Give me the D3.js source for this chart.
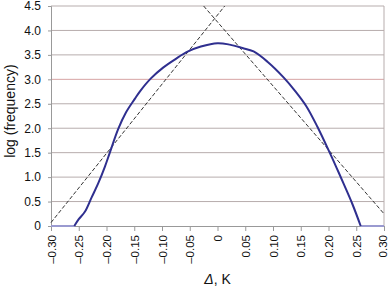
<!DOCTYPE html>
<html>
<head>
<meta charset="utf-8">
<script src="https://cdn.jsdelivr.net/npm/d3@7/dist/d3.min.js"></script>
<style>
    body { margin: 0; background: #fff; }
    text { font-family: "Liberation Sans", Arial, sans-serif; fill: #111; }
</style>
</head>
<body>
<div id="chart"></div>
<script>
var deltaK = [-0.30, -0.258, -0.25, -0.239, -0.227, -0.215, -0.203, -0.194, -0.179, -0.165, -0.149, -0.14, -0.12, -0.098, -0.075, -0.053, -0.03, 0, 0.022, 0.045, 0.065, 0.09, 0.119, 0.14, 0.16, 0.18, 0.203, 0.215, 0.227, 0.243, 0.258, 0.30];
var logFreq = [0, 0, 0.14, 0.29, 0.58, 0.87, 1.21, 1.50, 1.98, 2.32, 2.60, 2.75, 3.02, 3.24, 3.42, 3.57, 3.67, 3.74, 3.71, 3.64, 3.57, 3.36, 3.04, 2.76, 2.45, 2.03, 1.48, 1.18, 0.87, 0.45, 0, 0];

// straight dashed fits (end points)
var leftFitX = [-0.30, 0.013];
var leftFitY = [0.07, 4.5];
var rightFitX = [-0.025, 0.30];
var rightFitY = [4.5, 0.25];

var xTicks = [-0.30, -0.25, -0.20, -0.15, -0.10, -0.05, 0, 0.05, 0.10, 0.15, 0.20, 0.25, 0.30];
var yTicks = [0, 0.5, 1.0, 1.5, 2.0, 2.5, 3.0, 3.5, 4.0, 4.5];

var width = 388, height = 291;
var margin = {top: 6, right: 4, bottom: 65, left: 51};

var svg = d3.select("#chart").append("svg")
    .attr("width", width)
    .attr("height", height);

var x = d3.scaleLinear().domain([-0.30, 0.30]).range([margin.left, width - margin.right]);
var y = d3.scaleLinear().domain([0, 4.5]).range([height - margin.bottom, margin.top]);

function fmtX(d) {
    if (d === 0) return "0";
    return (d < 0 ? "\u2013" : "") + Math.abs(d).toFixed(2);
}
function fmtY(d) {
    return d === 0 ? "0" : d.toFixed(1);
}

// gridlines
svg.selectAll(".grid")
    .data(yTicks.slice(1))
    .enter().append("line")
    .attr("class", "grid")
    .attr("x1", x(-0.30))
    .attr("x2", x(0.30))
    .attr("y1", function (d) { return y(d); })
    .attr("y2", function (d) { return y(d); })
    .style("stroke", function (d) { return d === 3.0 ? "#d6a3a3" : "#b7adad"; })
    .style("stroke-width", 1);

// right border
svg.append("line")
    .attr("x1", x(0.30)).attr("x2", x(0.30))
    .attr("y1", y(4.5)).attr("y2", y(0))
    .style("stroke", "#b7adad");

// y axis
var yAxis = d3.axisLeft(y).tickValues(yTicks).tickFormat(fmtY).tickSize(3).tickPadding(7);
var gy = svg.append("g")
    .attr("transform", "translate(" + x(-0.30) + ",0)")
    .call(yAxis);
gy.select(".domain").style("stroke", "#999");
gy.selectAll(".tick line").style("stroke", "#999");
gy.selectAll("text").style("font-size", "12px").style("font-family", "Liberation Sans, Arial, sans-serif").style("fill", "#111");

// x axis
var xAxis = d3.axisBottom(x).tickValues(xTicks).tickFormat(fmtX).tickSizeInner(5).tickSizeOuter(0);
var gx = svg.append("g")
    .attr("transform", "translate(0," + y(0) + ")")
    .call(xAxis);
gx.select(".domain").style("stroke", "#999");
gx.selectAll(".tick line").style("stroke", "#999");
gx.selectAll("text")
    .style("font-size", "11.5px")
    .style("font-family", "Liberation Sans, Arial, sans-serif")
    .style("fill", "#111")
    .style("text-anchor", "end")
    .attr("x", -9)
    .attr("y", 0)
    .attr("dy", function (d) { return d === 0.30 ? "0.2em" : "0.35em"; })
    .attr("transform", "rotate(-90)");

// dashed fits
var line = d3.line()
    .x(function (d) { return x(d[0]); })
    .y(function (d) { return y(d[1]); });

[[leftFitX, leftFitY], [rightFitX, rightFitY]].forEach(function (f) {
    svg.append("path")
        .datum(d3.zip(f[0], f[1]))
        .attr("d", line)
        .style("fill", "none")
        .style("stroke", "#333")
        .style("stroke-width", 1)
        .style("stroke-dasharray", "4,2");
});

// curve: flat zero ends drawn lighter, over the axis
var pts = d3.zip(deltaK, logFreq);
var main = pts.slice(1, pts.length - 1);
svg.append("path")
    .datum(pts.slice(0, 2)).attr("d", line)
    .style("fill", "none").style("stroke", "#9a9ad0").style("stroke-width", 2);
svg.append("path")
    .datum(pts.slice(pts.length - 2)).attr("d", line)
    .style("fill", "none").style("stroke", "#9a9ad0").style("stroke-width", 2);
svg.append("path")
    .datum(main)
    .attr("d", line.curve(d3.curveCatmullRom.alpha(0.5)))
    .style("fill", "none")
    .style("stroke", "#2f2f8f")
    .style("stroke-width", 2)
    .style("stroke-linejoin", "round");

// titles
var xt = svg.append("text")
    .attr("x", x(0))
    .attr("y", 284)
    .style("text-anchor", "middle")
    .style("font-size", "14px");
xt.append("tspan").style("font-style", "italic").text("\u0394");
xt.append("tspan").text(", K");

svg.append("text")
    .attr("transform", "translate(15," + y(2.35) + ") rotate(-90)")
    .style("text-anchor", "middle")
    .style("font-size", "14px")
    .text("log (frequency)");
</script>
</body>
</html>
